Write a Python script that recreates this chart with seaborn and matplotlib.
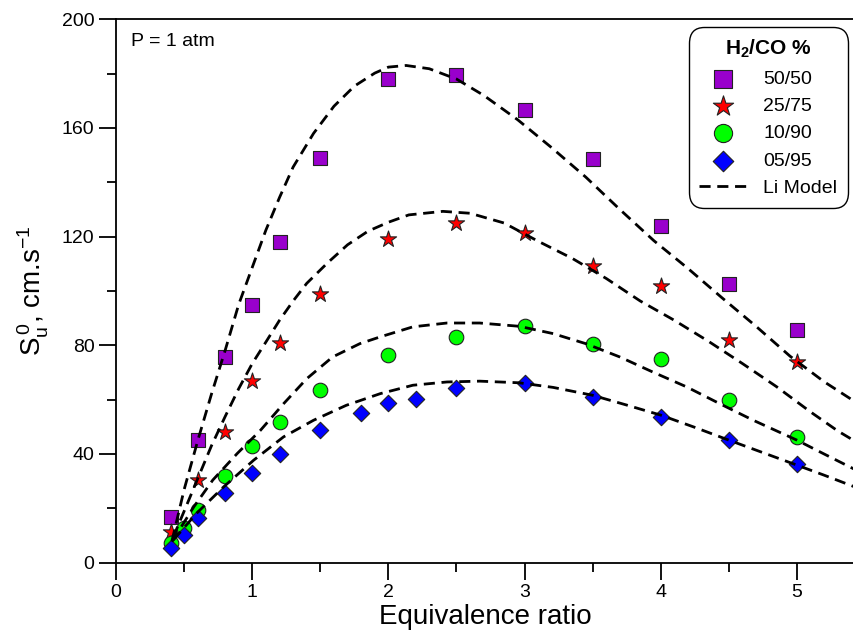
import matplotlib
matplotlib.use('Agg')
import matplotlib.pyplot as plt
import seaborn as sns
from matplotlib.ticker import MultipleLocator

phi_5050 = [0.4, 0.6, 0.8, 1.0, 1.2, 1.5, 2.0, 2.5, 3.0, 3.5, 4.0, 4.5, 5.0]
su_5050 = [16.9, 45.3, 75.7, 95.0, 118.0, 148.9, 177.9, 179.6, 166.7, 148.5, 123.8, 102.4, 85.8]

phi_2575 = [0.4, 0.6, 0.8, 1.0, 1.2, 1.5, 2.0, 2.5, 3.0, 3.5, 4.0, 4.5, 5.0]
su_2575 = [11.3, 30.4, 48.1, 66.9, 81.0, 98.7, 119.3, 125.0, 121.5, 109.2, 101.7, 82.1, 73.9]

phi_1090 = [0.4, 0.5, 0.6, 0.8, 1.0, 1.2, 1.5, 2.0, 2.5, 3.0, 3.5, 4.0, 4.5, 5.0]
su_1090 = [7.3, 12.9, 19.3, 31.9, 43.0, 51.9, 63.7, 76.3, 82.9, 87.1, 80.6, 74.9, 59.8, 46.3]

phi_0595 = [0.4, 0.5, 0.6, 0.8, 1.0, 1.2, 1.5, 1.8, 2.0, 2.2, 2.5, 3.0, 3.5, 4.0, 4.5, 5.0]
su_0595 = [5.2, 10.1, 16.6, 25.8, 33.0, 40.0, 49.0, 55.1, 58.8, 60.4, 64.3, 66.2, 60.8, 53.6, 45.1, 36.2]

# --- Li model curves ---
model_a_phi = [0.41, 0.5, 0.6, 0.7, 0.8, 0.9, 1.0, 1.1, 1.2, 1.3, 1.45, 1.6, 1.75, 1.9, 2.0,
               2.13, 2.3, 2.5, 2.7, 2.95, 3.2, 3.45, 3.7, 3.95, 4.2, 4.45, 4.7, 4.95, 5.2, 5.45]
model_a_su = [8, 27, 45, 62, 78, 95, 108.7, 122.4, 134.4, 145.6, 158, 168, 175.4, 180.2, 182.4,
              183, 181.8, 178, 172, 163, 152.7, 141.9, 130, 118.5, 108.3, 97.5, 87, 76, 66.6, 58.5]

model_b_phi = [0.42, 0.5, 0.6, 0.7, 0.8, 0.9, 1.0, 1.1, 1.2, 1.3, 1.4, 1.55, 1.7, 1.85, 2.0,
               2.15, 2.4, 2.6, 2.85, 3.1, 3.35, 3.6, 3.85, 4.1, 4.35, 4.6, 4.85, 5.1, 5.3, 5.45]
model_b_su = [9.5, 19, 31, 43, 53.7, 64, 73.3, 81.2, 89.2, 96.3, 102.8, 110.2, 117, 122, 125.3,
              128, 129.3, 128.6, 125, 118.3, 112, 104.6, 96.3, 89.2, 81.5, 73.3, 64.8, 55.5, 48.5, 44]

model_c_phi = [0.41, 0.57, 0.71, 0.89, 1.06, 1.23, 1.4, 1.59, 1.79, 1.94, 2.18, 2.43, 2.67,
               2.96, 3.21, 3.45, 3.7, 3.94, 4.19, 4.43, 4.68, 5.0, 5.2, 5.45]
model_c_su = [7.7, 20.5, 30.4, 40.2, 48.7, 58.5, 67.7, 75.7, 80.6, 83.1, 86.8, 88.2, 88.2,
              87, 84.3, 80.6, 75.7, 70.2, 64.7, 58.6, 52.4, 45.1, 40, 33.7]

model_d_phi = [0.42, 0.59, 0.79, 1.01, 1.23, 1.45, 1.69, 1.94, 2.18, 2.43, 2.67, 2.96, 3.21,
               3.5, 3.75, 4.0, 4.25, 4.5, 4.75, 5.0, 5.2, 5.45]
model_d_su = [8.3, 18.1, 27.9, 37.7, 46.3, 52.4, 57.9, 62.2, 65.3, 66.5, 66.8, 66.2, 64.5,
              61.6, 58, 54.3, 49.8, 45.1, 40.5, 35.9, 32.2, 27.4]

mix_labels = ['50/50', '25/75', '10/90', '05/95']
mix_colors = ['#9900CC', '#FF0000', '#00FF00', '#0000FF']
mix_markers = ['s', '*', 'o', 'D']
mix_sizes = [110, 150, 110, 70]


def make_plot():
    sns.set_style('ticks')
    plt.rcParams['font.family'] = ['Liberation Sans', 'DejaVu Sans']
    plt.rcParams['mathtext.fontset'] = 'custom'
    plt.rcParams['mathtext.rm'] = 'Liberation Sans'
    plt.rcParams['mathtext.it'] = 'Liberation Sans:italic'
    plt.rcParams['mathtext.bf'] = 'Liberation Sans:bold'
    plt.rcParams['mathtext.default'] = 'regular'
    for key in ['text.color', 'axes.labelcolor', 'xtick.color', 'ytick.color', 'axes.edgecolor']:
        plt.rcParams[key] = 'black'

    fig = plt.figure(figsize=(8.54, 6.43), dpi=100)
    ax = fig.add_axes([0.136, 0.125, 0.864, 0.845])

    measured = [(phi_5050, su_5050), (phi_2575, su_2575), (phi_1090, su_1090), (phi_0595, su_0595)]
    for (phi, su), lab, col, mk, sz in zip(measured, mix_labels, mix_colors, mix_markers, mix_sizes):
        sns.scatterplot(x=phi, y=su, ax=ax, color=col, marker=mk, s=sz, edgecolor='#222222',
                        linewidth=0.8, label=lab, zorder=2)

    models = [(model_a_phi, model_a_su), (model_b_phi, model_b_su),
              (model_c_phi, model_c_su), (model_d_phi, model_d_su)]
    for i, (phi, su) in enumerate(models):
        sns.lineplot(x=phi, y=su, ax=ax, color='black', lw=2.0, ls=(0, (4, 2.4)), sort=False,
                     label='Li Model' if i == 0 else '_nolegend_', zorder=3)

    ax.set_xlim(0, 5.42)
    ax.set_ylim(0, 200)
    ax.xaxis.set_major_locator(MultipleLocator(1))
    ax.xaxis.set_minor_locator(MultipleLocator(0.5))
    ax.yaxis.set_major_locator(MultipleLocator(40))
    ax.yaxis.set_minor_locator(MultipleLocator(20))
    ax.tick_params(which='major', direction='out', length=12, width=1.3, labelsize=14, color='black')
    ax.tick_params(which='minor', direction='out', length=6.5, width=1.3, color='black')
    for side in ['left', 'bottom', 'top']:
        ax.spines[side].set_linewidth(1.3)
        ax.spines[side].set_color('black')
    ax.spines['right'].set_visible(False)

    ax.set_xlabel('Equivalence ratio', fontsize=20, labelpad=2)
    ax.set_ylabel(r'S$_u^{\,0}$, cm.s$^{-1}$', fontsize=20, labelpad=8)
    ax.text(0.02, 0.975, 'P = 1 atm', transform=ax.transAxes, fontsize=14, va='top', ha='left')

    leg = ax.legend(loc='upper right', bbox_to_anchor=(0.992, 0.985), borderaxespad=0,
                    fontsize=14, markerscale=1.25,
                    title='H$_2$/CO %', title_fontproperties={'weight': 'bold', 'size': 15},
                    frameon=True, fancybox=True, framealpha=1, edgecolor='black',
                    handlelength=2.4, handletextpad=0.9, labelspacing=0.5, borderpad=0.55)
    leg.get_frame().set_linewidth(1.0)
    leg.get_frame().set_boxstyle('round', pad=0.0, rounding_size=0.8)

    fig.savefig('out.png', dpi=100)
    plt.close(fig)


if __name__ == '__main__':
    make_plot()
